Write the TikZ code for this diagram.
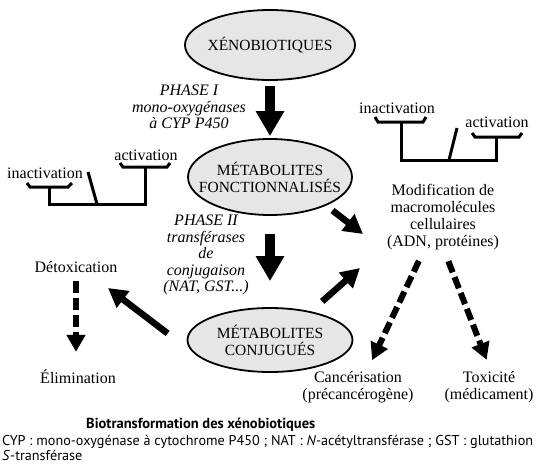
\documentclass[tikz,border=0pt]{standalone}
\usepackage{fontspec}
\setmainfont{Liberation Serif}
\setsansfont{PT Sans}
\usetikzlibrary{arrows.meta,shapes.geometric}
\definecolor{BlobGray}{RGB}{230,230,230}

\begin{document}
\begin{tikzpicture}[
    x=1pt, y=-1pt,
    font=\fontsize{16}{17}\selectfont,
    blob/.style={
        ellipse,
        draw,
        line width=1.8pt,
        fill=BlobGray,
        inner sep=-40pt,
        align=center,
        font=\fontsize{15.5}{17}\selectfont
    },
    word/.style={
        align=center,
        inner sep=0pt
    },
    phase/.style={
        align=center,
        inner sep=0pt,
        font=\fontsize{16}{16.5}\selectfont\itshape
    },
    bigarrow/.style={
        -{Triangle[width=27pt,length=25pt]},
        line width=10pt
    },
    slant/.style={
        -{Triangle[width=20pt,length=19pt]},
        line width=6.5pt
    },
    dasharrow/.style={
        -{Triangle[width=18pt,length=17pt]},
        line width=6pt,
        dash pattern=on 12pt off 5pt
    },
    beam/.style={
        line width=3pt
    }
]
\useasboundingbox (0,0) rectangle (542,466);

% =========================
% Main chain
% =========================
\node[blob, minimum width=170pt, minimum height=70pt] (xeno)  at (270,45)  {XÉNOBIOTIQUES};
\node[blob, minimum width=164pt, minimum height=76pt] (fonct) at (270,177) {MÉTABOLITES\\FONCTIONNALISÉS};
\node[blob, minimum width=165pt, minimum height=64pt] (conj)  at (270,340) {MÉTABOLITES\\CONJUGUÉS};

\draw[bigarrow, shorten <=5pt, shorten >=2pt] (xeno) -- (fonct);
\draw[bigarrow, shorten <=18pt, shorten >=26pt] (fonct) -- (conj);

\node[phase] (phase1) at (189,107) {PHASE I\\mono-oxygénases\\à CYP P450};
\node[phase] (phase2) at (206,255) {PHASE II\\transférases\\de\\conjugaison\\(NAT, GST...)};

% =========================
% Balances
% =========================
\node[word] (inactL) at (45,173)  {inactivation};
\node[word] (actL)   at (146,155) {activation};
\draw[beam] (27,183) -- (30,187) -- (68,187) -- (72,183);
\draw[beam] (49,187) -- (49,204) -- (145,204) -- (145,167);
\draw[beam] (120,163) -- (123,167) -- (167,167) -- (170,163);
\draw[beam] (97,204) -- (88,172);

\node[word] (inactR) at (397,108) {inactivation};
\node[word] (actR)   at (497,122) {activation};
\draw[beam] (375,117) -- (378,122) -- (423,122) -- (426,117);
\draw[beam] (401,122) -- (401,160) -- (496,160) -- (496,137);
\draw[beam] (472,133) -- (475,137) -- (519,137) -- (522,133);
\draw[beam] (449,160) -- (457,128);

% =========================
% Outcomes
% =========================
\node[word] (modif)  at (443,217) {Modification de\\macromolécules\\cellulaires\\(ADN, protéines)};
\node[word] (detox)  at (76,267)  {Détoxication};
\node[word] (elim)   at (78,377)  {Élimination};
\node[word] (cancer) at (358,387) {Cancérisation\\(précancérogène)};
\node[word] (toxic)  at (489,387) {Toxicité\\(médicament)};

\coordinate (tipA) at (363,234);
\coordinate (tipB) at (360,268);
\coordinate (tipC) at (108,288);

\draw[slant, shorten <=8pt]  (fonct.-27) -- (tipA);
\draw[slant, shorten <=15pt] (conj.35) -- (tipB);
\draw[slant, shorten <=33pt] (conj.190) -- (tipC);

\draw[dasharrow, shorten <=8pt, shorten >=18pt] (detox.south) -- ([xshift=-2pt]elim.north);
\draw[dasharrow, shorten <=12pt, shorten >=12pt] ([xshift=-19pt]modif.south) -- ([xshift=9pt]cancer.north);
\draw[dasharrow, shorten <=12pt, shorten >=12pt] ([xshift=1pt]modif.south) -- ([xshift=2pt]toxic.north);

% =========================
% Caption
% =========================
\node[anchor=west, inner sep=0pt, font=\sffamily\bfseries\fontsize{14.5}{16}\selectfont] (title) at (86,425) {Biotransformation des xénobiotiques};
\node[anchor=west, inner sep=0pt, align=left, font=\sffamily\fontsize{14.2}{15}\selectfont] (legend) at (2,448) {CYP : mono-oxygénase à cytochrome P450 ; NAT : \textit{N}-acétyltransférase ; GST : glutathion\\\textit{S}-transférase};

\end{tikzpicture}
\end{document}
